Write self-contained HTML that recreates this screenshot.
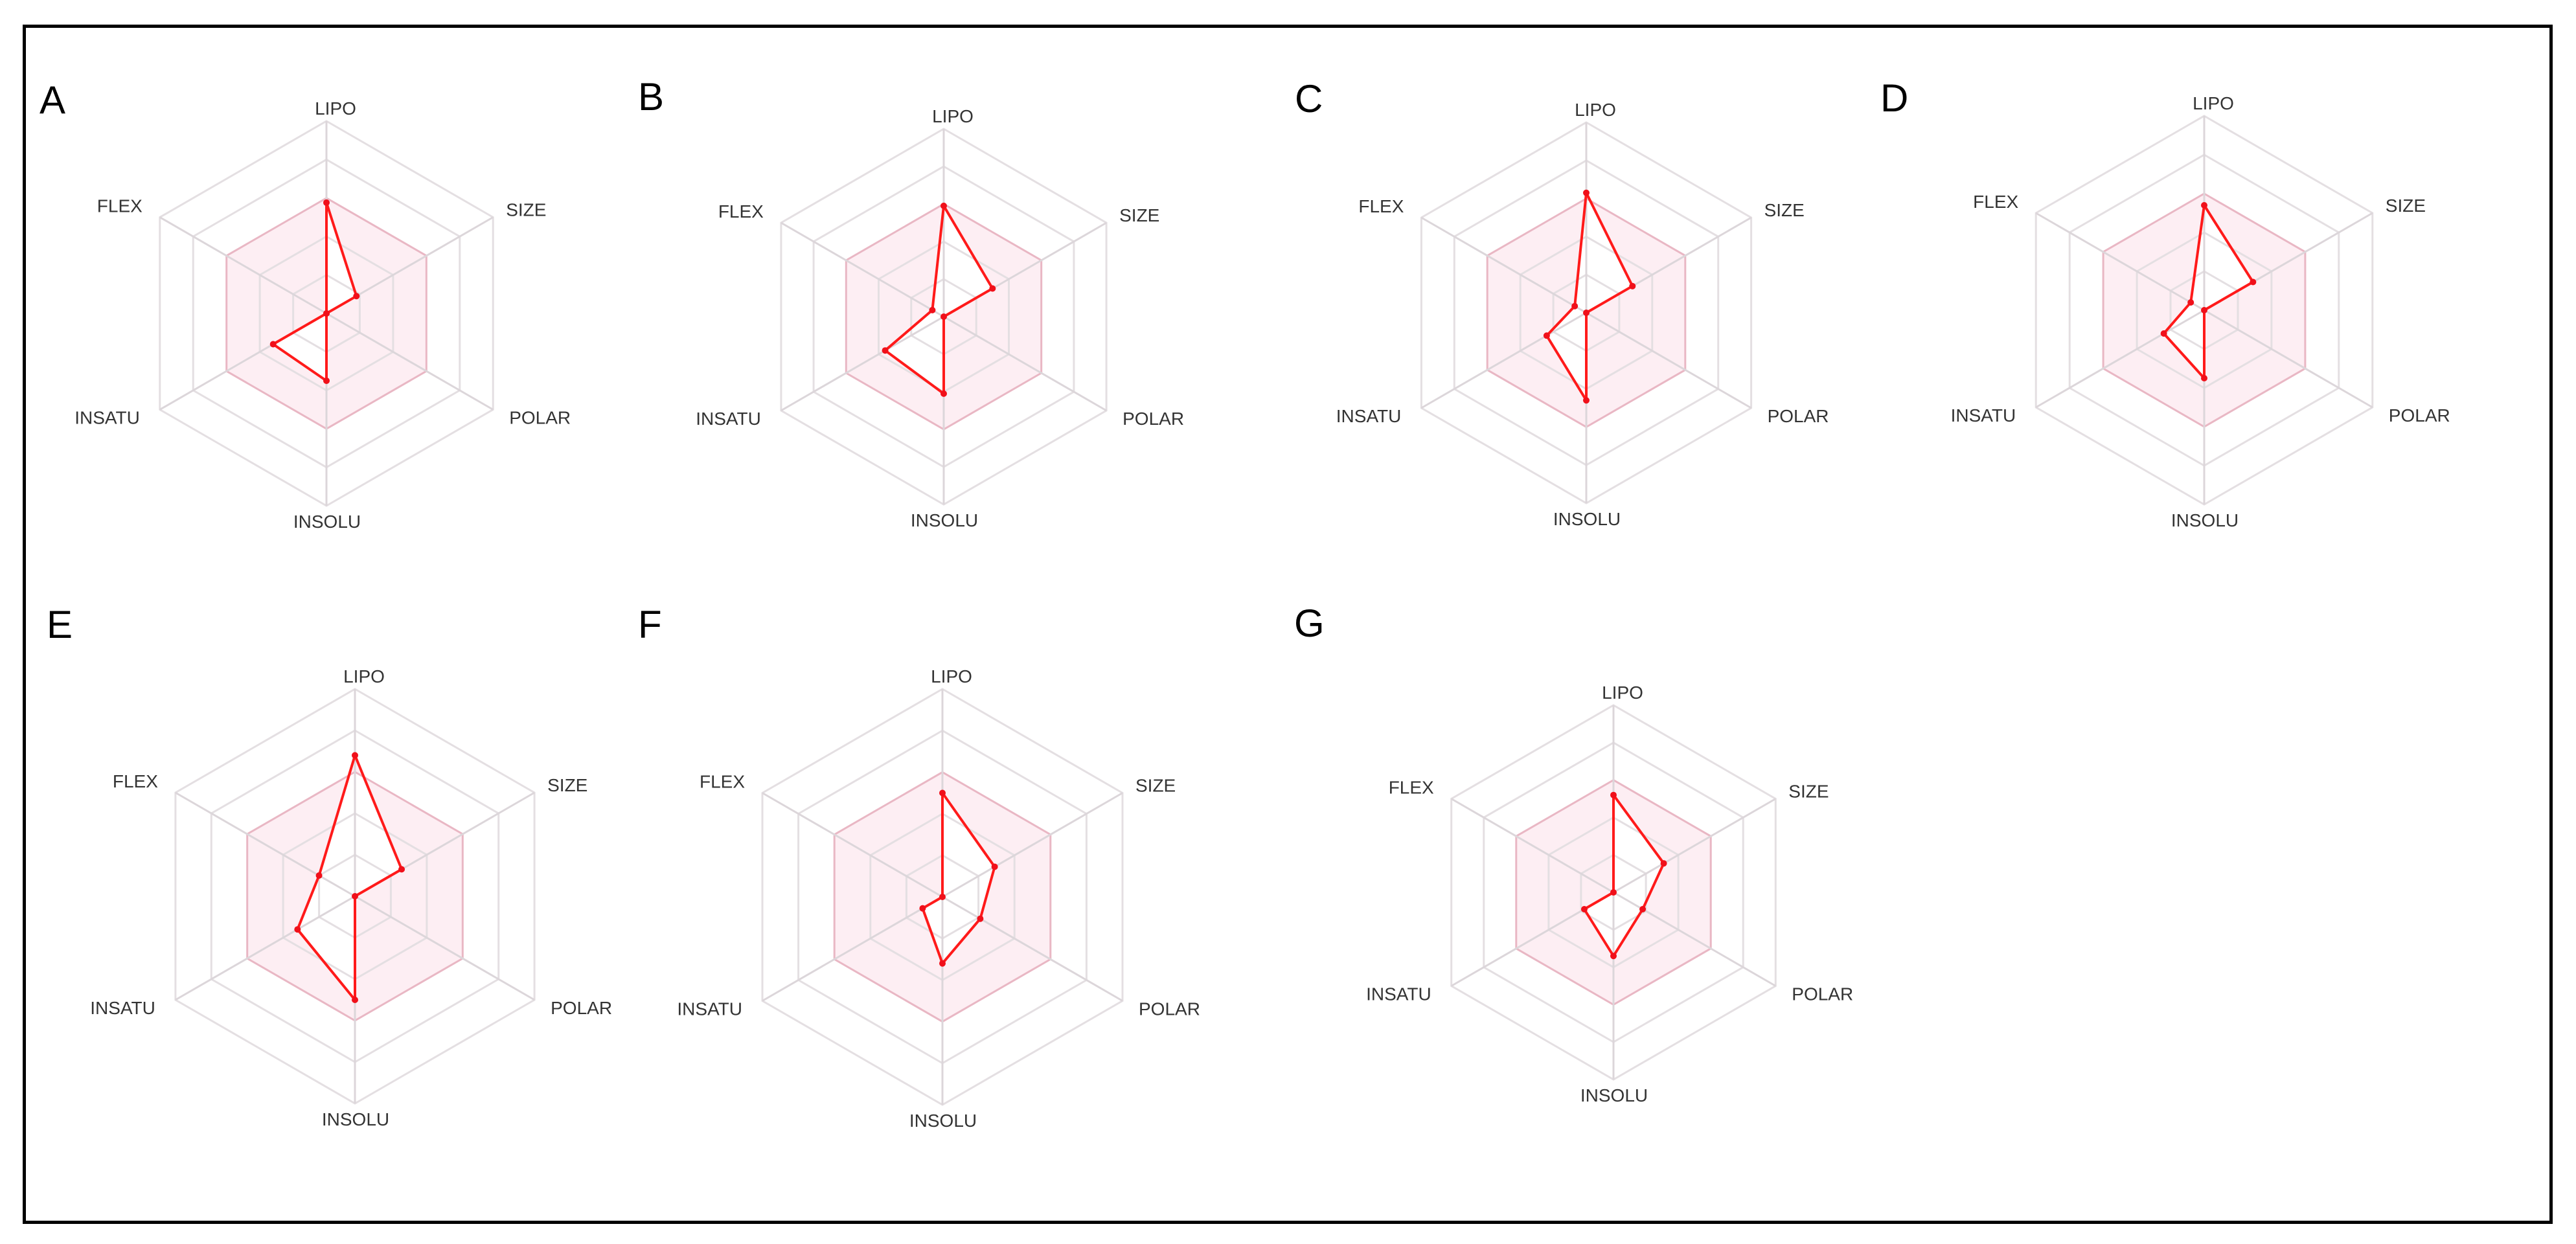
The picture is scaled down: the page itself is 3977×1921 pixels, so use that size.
<!DOCTYPE html>
<html><head><meta charset="utf-8"><style>
html,body{margin:0;padding:0;background:#fff;}
body{width:3977px;height:1921px;overflow:hidden;position:relative;font-family:"Liberation Sans",sans-serif;}
#frame{position:absolute;left:35px;top:38px;width:3896px;height:1842px;border:5px solid #000;}
</style></head><body>
<div id="frame"></div>
<svg id="chart" width="3977" height="1921" style="position:absolute;left:0;top:0"></svg>
<script>
const axesLabels = ["LIPO","SIZE","POLAR","INSOLU","INSATU","FLEX"];
const panelLetters = ["A","B","C","D","E","F","G"];
const valuesA = [0.576,0.18,0,0.35,0.32,0];
const valuesB = [0.59,0.30,0,0.41,0.36,0.07];
const valuesC = [0.63,0.28,0,0.46,0.24,0.07];
const valuesD = [0.54,0.29,0,0.35,0.24,0.08];
const valuesE = [0.68,0.26,0,0.50,0.32,0.20];
const valuesF = [0.50,0.29,0.21,0.32,0.11,0];
const valuesG = [0.52,0.31,0.18,0.34,0.18,0];
const gridLevels = [0.2,0.4,0.6,0.8,1.0];
const optimalRange = [0.2,0.6];
const allValues=[valuesA,valuesB,valuesC,valuesD,valuesE,valuesF,valuesG];
const layout=[
 {cx:504,cy:484,R:297,lx:61,ly:175},
 {cx:1457,cy:489,R:290,lx:985,ly:170},
 {cx:2449,cy:483,R:294,lx:1999,ly:173},
 {cx:3403,cy:479,R:300,lx:2903,ly:172},
 {cx:548,cy:1384,R:320,lx:72,ly:985},
 {cx:1455,cy:1385,R:321,lx:985,ly:985},
 {cx:2491,cy:1378,R:289,lx:1998,ly:983}
];
const NS="http://www.w3.org/2000/svg";
const svg=document.getElementById('chart');
function mk(t,a,p){const e=document.createElementNS(NS,t);for(const k in a)e.setAttribute(k,a[k]);p.appendChild(e);return e;}
function pt(L,i,v){const ang=-Math.PI/2+i*Math.PI/3;return [L.cx+Math.cos(ang)*v*L.R,L.cy+Math.sin(ang)*v*L.R];}
function ring(L,v){let s='';for(let i=0;i<6;i++){const p=pt(L,i,v);s+=(i?'L':'M')+p[0].toFixed(1)+' '+p[1].toFixed(1);}return s+'Z';}
layout.forEach((L,k)=>{
  const vals=allValues[k];
  const g=mk('g',{},svg);
  
  
  // pink optimal zone minus data polygon
  let dp='';vals.forEach((v,i)=>{const p=pt(L,i,v);dp+=(i?'L':'M')+p[0].toFixed(1)+' '+p[1].toFixed(1);});dp+='Z';
  const zone=mk('path',{d:ring(L,optimalRange[1])+dp,fill:'#fdeef3','fill-rule':'evenodd',stroke:'none'},g);
  
  
  gridLevels.forEach(v=>{
    const r=mk('path',{d:ring(L,v),fill:'none',stroke:v===optimalRange[1]?'#e9b7c4':'#e4dfe2','stroke-width':3},g);
    
    
  });
  for(let i=0;i<6;i++){
    const p=pt(L,i,1);
    const s=mk('line',{x1:L.cx,y1:L.cy,x2:p[0],y2:p[1],stroke:'#dcd6da','stroke-width':3},g);
    
    
  }
  const poly=mk('path',{d:dp,fill:'none',stroke:'#ff1a1a','stroke-width':4,'stroke-linejoin':'round'},g);
  
  
  vals.forEach((v,i)=>{const p=pt(L,i,v);
    const c=mk('circle',{cx:p[0],cy:p[1],r:5,fill:'#f0101a'},g);
    
    
  });
  const R=L.R,h=0.866*R;
  const lp=[
    [L.cx+14,L.cy-R-10,'middle'],
    [L.cx+h+20,L.cy-0.5*R-2,'start'],
    [L.cx+h+25,L.cy+0.5*R+22,'start'],
    [L.cx+1,L.cy+R+34,'middle'],
    [L.cx-h-31,L.cy+0.5*R+22,'end'],
    [L.cx-h-27,L.cy-0.5*R-8,'end']];
  axesLabels.forEach((t,i)=>{
    const e=mk('text',{x:lp[i][0],y:lp[i][1],'text-anchor':lp[i][2],'font-size':28,fill:'#333'},g);
    e.textContent=t;
    
    
  });
  const lt=mk('text',{x:L.lx,y:L.ly,'font-size':60,fill:'#000'},g);
  lt.textContent=panelLetters[k];
  
  
});
</script>
</body></html>
